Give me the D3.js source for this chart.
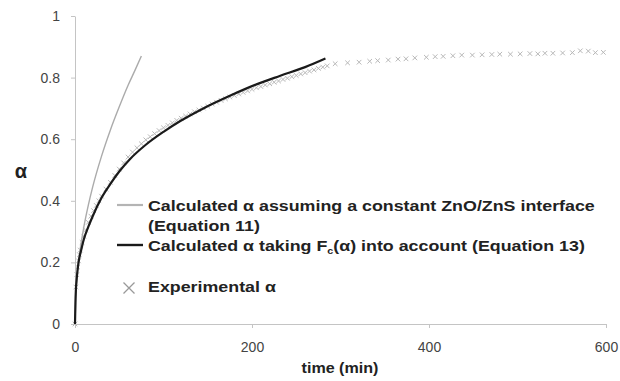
<!DOCTYPE html>
<html>
<head>
<meta charset="utf-8">
<script src="https://cdn.jsdelivr.net/npm/d3@7"></script>
<style>
  body { margin: 0; background: #fff; }
  svg { display: block; font-family: "Liberation Sans", Arial, sans-serif; }
  .tick_label { font-size: 14px; fill: #444; }
  .legend_text { font-size: 15px; font-weight: bold; fill: #222; }
</style>
</head>
<body>
<svg id="chart" width="620" height="381"></svg>
<script>
// Equation 11: constant ZnO/ZnS interface
const eq11Time  = [0, 1, 2, 4, 6, 10, 15, 20, 30, 40, 50, 60, 68, 75];
const eq11Alpha = [0, 0.10, 0.14, 0.20, 0.245, 0.315, 0.385, 0.445, 0.545, 0.63, 0.705, 0.775, 0.825, 0.87];

// Equation 13: taking Fc(α) into account
const eq13Time  = [0, 0.5, 1, 2, 4, 7, 10, 15, 20, 30, 40, 50, 62, 80, 100, 119, 145, 175, 205, 232, 260, 283];
const eq13Alpha = [0, 0.07, 0.11, 0.15, 0.20, 0.24, 0.275, 0.315, 0.35, 0.41, 0.455, 0.495, 0.535, 0.582, 0.624, 0.659, 0.70, 0.741, 0.778, 0.806, 0.834, 0.862];

// experimental α
const expTime = [0, 1, 2, 3, 4, 5, 6, 8, 10, 12, 15, 18, 21, 24, 27, 30, 35, 40, 45, 50, 55, 60, 65, 70, 75, 80,
  85, 90, 95, 100, 105, 110, 115, 120, 125, 130, 135, 140, 145, 150, 155, 160, 165, 170, 175, 180, 185, 190,
  195, 200, 205, 210, 215, 220, 225, 230, 235, 240, 245, 250, 255, 260, 265, 270, 275, 280, 285,
  294, 308, 321, 333, 342, 354, 365, 374, 384, 397, 407, 416, 427, 437, 449, 460, 471, 480, 492, 503, 514,
  523, 531, 540, 551, 562, 571, 580, 588, 597];
const expAlpha = [0, 0.12, 0.16, 0.185, 0.205, 0.225, 0.24, 0.265, 0.285, 0.305, 0.33, 0.35, 0.368, 0.385, 0.40, 0.415,
  0.438, 0.46, 0.482, 0.503, 0.523, 0.542, 0.558, 0.572, 0.585, 0.598, 0.608, 0.618, 0.628, 0.637, 0.645, 0.653,
  0.661, 0.668, 0.675, 0.682, 0.689, 0.695, 0.701, 0.707, 0.714, 0.72, 0.726, 0.731, 0.737, 0.742, 0.747, 0.752,
  0.757, 0.762, 0.767, 0.771, 0.776, 0.78, 0.785, 0.789, 0.794, 0.798, 0.803, 0.807, 0.812, 0.816, 0.821, 0.825,
  0.83, 0.834, 0.838,
  0.845, 0.848, 0.85, 0.853, 0.855, 0.857, 0.86, 0.861, 0.864, 0.866, 0.868, 0.869, 0.871, 0.873, 0.873, 0.874,
  0.875, 0.876, 0.876, 0.877, 0.878, 0.877, 0.879, 0.879, 0.88, 0.881, 0.887, 0.886, 0.881, 0.882];

const xTicks = [0, 200, 400, 600];
const yTicks = [0, 0.2, 0.4, 0.6, 0.8, 1];

const svg = d3.select('#chart');

const x = d3.scaleLinear().domain([0, 600]).range([75, 606]);
const y = d3.scaleLinear().domain([0, 1]).range([324, 16]);

// 坐标轴
const xAxis = d3.axisBottom(x).tickValues(xTicks).tickSize(4).tickSizeOuter(0).tickPadding(14)
    .tickFormat(d3.format('d'));
const yAxis = d3.axisLeft(y).tickValues(yTicks).tickSize(4).tickSizeOuter(0).tickPadding(11)
    .tickFormat(d => d === 0 || d === 1 ? d : d3.format('.1f')(d));

const xg = svg.append('g').attr('transform', `translate(0, ${y(0)})`).call(xAxis);
const yg = svg.append('g').attr('transform', `translate(${x(0)}, 0)`).call(yAxis);
[xg, yg].forEach(g => {
    g.selectAll('path, line').attr('stroke', '#c4c4c4').attr('stroke-width', 1);
    g.selectAll('text').attr('class', 'tick_label').attr('font-family', null).attr('font-size', null);
});

// 实验数据的 × 标记
const crossPath = s => `M${-s},${-s}L${s},${s}M${-s},${s}L${s},${-s}`;
const expData = expTime.map((t, i) => ({ t, a: expAlpha[i] }));
svg.append('g').selectAll('path')
    .data(expData)
    .enter()
    .append('path')
    .attr('d', crossPath(2.3))
    .attr('transform', d => `translate(${x(d.t)}, ${y(d.a)})`)
    .attr('stroke', '#b8b8b8')
    .attr('stroke-width', 1)
    .attr('fill', 'none');

const line = d3.line().x(d => x(d[0])).y(d => y(d[1])).curve(d3.curveMonotoneX);

svg.append('path')
    .datum(eq11Time.map((t, i) => [t, eq11Alpha[i]]))
    .attr('d', line)
    .attr('fill', 'none')
    .attr('stroke', '#ababab')
    .attr('stroke-width', 1.4);

svg.append('path')
    .datum(eq13Time.map((t, i) => [t, eq13Alpha[i]]))
    .attr('d', line)
    .attr('fill', 'none')
    .attr('stroke', '#1a1a1a')
    .attr('stroke-width', 2.2);

// 轴标题
svg.append('text').text('α')
    .attr('x', 21).attr('y', 178)
    .attr('text-anchor', 'middle')
    .style('font-size', '20px').style('font-weight', 'bold').style('fill', '#222');
svg.append('text').text('time (min)')
    .attr('x', 340).attr('y', 373)
    .attr('text-anchor', 'middle')
    .attr('transform', 'translate(340, 0) scale(1.15, 1) translate(-340, 0)')
    .style('font-size', '14px').style('font-weight', 'bold').style('fill', '#222');

// 图例
const legend = svg.append('g');
legend.append('line').attr('x1', 117).attr('x2', 143).attr('y1', 205).attr('y2', 205)
    .attr('stroke', '#b4b4b4').attr('stroke-width', 2.2);
legend.append('line').attr('x1', 117).attr('x2', 143).attr('y1', 245).attr('y2', 245)
    .attr('stroke', '#1a1a1a').attr('stroke-width', 2.4);
legend.append('path').attr('d', crossPath(5.5))
    .attr('transform', 'translate(129, 288)')
    .attr('stroke', '#999').attr('stroke-width', 1.3).attr('fill', 'none');

const legendText = legend.append('g').attr('class', 'legend_texts');
const t1 = legendText.append('text').attr('class', 'legend_text').attr('x', 148).attr('y', 211)
    .text('Calculated α assuming a constant ZnO/ZnS interface');
legendText.append('text').attr('class', 'legend_text').attr('x', 148).attr('y', 231)
    .text('(Equation 11)');
const t13 = legendText.append('text').attr('class', 'legend_text').attr('x', 148).attr('y', 251);
t13.append('tspan').text('Calculated α taking F');
t13.append('tspan').text('c').attr('dy', 3).style('font-size', '9px');
t13.append('tspan').text('(α) into account (Equation 13)').attr('dy', -3);
legendText.append('text').attr('class', 'legend_text').attr('x', 148).attr('y', 292)
    .text('Experimental α');
// 参考图中的文字横向偏宽，按第一行宽度拉伸
const w1 = t1.node().getComputedTextLength();
const sx = 447 / w1;
legendText.attr('transform', `translate(148, 0) scale(${sx}, 1) translate(-148, 0)`);
</script>
</body>
</html>
